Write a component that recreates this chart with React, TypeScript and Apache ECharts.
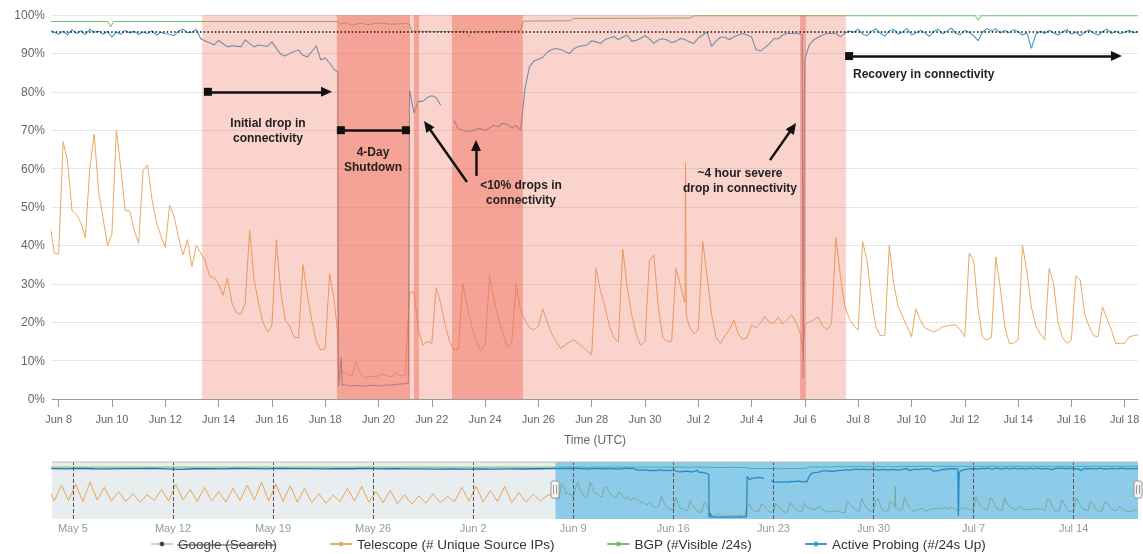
import React, { useEffect, useRef } from 'react';
import * as echarts from 'echarts';

const FONT = '"Liberation Sans", Arial, Helvetica, sans-serif';
const MONTHS = ['Jan', 'Feb', 'Mar', 'Apr', 'May', 'Jun', 'Jul', 'Aug', 'Sep', 'Oct', 'Nov', 'Dec'];
// x values are days relative to Jun 8 00:00 UTC
const BASE_UTC = Date.UTC(2019, 5, 8);

const seriesNames = ['Google (Search)', 'Telescope (# Unique Source IPs)', 'BGP (#Visible /24s)', 'Active Probing (#/24s Up)'];
const mainTickDays = [0, 2, 4, 6, 8, 10, 12, 14, 16, 18, 20, 22, 24, 26, 28, 30, 32, 34, 36, 38, 40];
const navTickDays = [-34, -27, -20, -13, -6, 1, 8, 15, 22, 29, 36];

// 4-hourly samples starting Jun 7 16:00
const sampleStart = -1 / 3;
const sampleStep = 1 / 6;

const telescope = [
  46, 38,
  37.8, 67, 62, 49, 48, 46,
  42, 60, 69, 54, 47, 40,
  43, 70, 60, 49, 49, 44,
  40.5, 59.6, 60.9, 52, 46, 42.5,
  39.5, 50.5, 47.5, 42, 37.5, 41.5,
  34.5, 40, 38, 36, 32, 31.5,
  30, 27, 31.5, 25, 22.5, 22,
  25, 44, 31, 25, 20, 17.5,
  19, 41.5, 28, 20.5, 19, 16,
  16, 35, 27, 20.5, 15, 12.8,
  13, 32.5, 26, 6.5, 7, 6.5,
  6, 9.7, 6.5, 5.5, 6, 5.8,
  6, 6.5, 6, 5.8, 6.8, 6,
  6.2, 27.5, 28, 18, 14, 15,
  14.5, 29, 25, 19.5, 15, 12.8,
  13, 30, 24, 19, 15.5, 12.5,
  14, 32, 26, 21, 17, 13.5,
  14.5, 30, 23, 20.5, 18.5, 18,
  19, 23.5, 20, 17, 15, 13.2,
  14, 14.9, 15.4, 14.5, 13.5, 12.5,
  11.5, 34, 28, 24, 19, 16,
  14.9, 39, 29, 22, 17, 14,
  15, 36, 37.5, 24, 16, 15,
  15, 34, 29.5, 25, 18.8, 17,
  18, 41, 32, 22, 16, 14.5,
  16.5, 18, 20.5, 17, 15.5, 16,
  19.3, 18.5, 19.7, 21.5, 20, 19.7,
  21.4, 19.5, 20.6, 21.9, 20, 17,
  19.5, 20, 20.6, 21.4, 19, 18,
  19.7, 42, 32, 24, 21, 19,
  18, 41, 36, 25.8, 18.8, 16.5,
  16.5, 40, 30, 24, 21.5, 19,
  16.2, 23.5, 20.5, 18.5, 18, 17.5,
  18, 18.8, 19, 19.3, 19.3, 18,
  16.2, 38, 36, 23.5, 16, 15.4,
  16, 37, 29, 19, 14.5, 14.5,
  15.4, 40, 33, 24, 19, 17,
  15.4, 34, 30, 20, 16, 14.5,
  15.4, 32, 31, 22, 18.8, 16.5,
  16.2, 24, 21, 18, 14.5, 14.5,
  14.5, 16.2, 16.5, 16.7,
];
const telescopeExtra = [[10.47, 17], [23.52, 61.5], [23.55, 22], [27.93, 12]];

const probing = [
  96.0, 95.5,
  95.0, 95.8, 94.8, 96.2, 95.2, 95.9,
  94.9, 96.3, 95.5, 95.8, 95.0, 95.7,
  94.2, 95.6, 95.0, 96.0, 95.3, 95.8,
  94.9, 95.6, 95.2, 95.9, 94.8, 95.5,
  95.1, 95.0, 94.6, 95.8, 96.3, 95.4,
  95.5, 96.2, 93.8, 93.2, 92.8, 92.2,
  93.4, 92.5, 91.7, 92.0, 91.9, 91.7,
  93.5, 92.6, 91.7, 92.2, 92.0, 91.8,
  93.0, 91.3, 89.8, 89.3, 90.0, 90.5,
  90.9, 89.5, 89.1, 90.5, 92.0, 88.3,
  88.8, 87.5, 85.8, 3.2, 3.8, 3.5,
  3.4, 3.6, 3.5, 3.3, 3.5, 3.6,
  3.4, 3.5, 3.7, 3.6, 3.8, 3.9,
  4.0, 80.5, 74.5, 77.5, 77.5, 78.5,
  79.0, 78.5, 76.5, null, null, 72.5,
  70.3, 70.0, 69.7, 69.8, 70.3, 70.4,
  70.0, 70.6, 71.3, 70.9, 71.8, 71.5,
  70.6, 71.2, 70.0, 81.0, 86.5, 88.0,
  88.5, 89.0, 90.3, 91.0, 91.3, 91.0,
  90.5, 90.0, 91.2, 91.8, 92.0, 92.2,
  93.3, 93.0, 92.6, 93.6, 94.0, 94.4,
  93.6, 94.2, 94.8, 93.2, 93.4, 93.9,
  94.6, 93.8, 92.6, 93.5, 93.8, 93.5,
  92.8, 93.2, 93.9, 93.6, 93.0, 92.6,
  94.0, 94.8, 95.6, 91.8, 93.2, 94.2,
  94.2, 93.6, 94.3, 94.8, 95.2, 94.8,
  94.3, 91.0, 90.6, 91.5, 92.5, 93.8,
  93.8, 94.8, 95.2, 95.2, 95.2, 95.0,
  88.5, 92.2, 93.5, 94.2, 94.8, 95.2,
  95.2, 95.2, 94.3, 95.3, 95.8, 95.5,
  96.3, 95.0, 94.6, 95.8, 96.4, 95.2,
  94.5, 95.9, 96.2, 95.0, 95.6, 96.5,
  94.8, 95.3, 96.0, 95.4, 94.4, 95.7,
  96.3, 95.1, 95.8, 96.6, 95.2, 94.9,
  96.0, 95.5, 94.6, 93.3, 95.5, 96.5,
  95.8, 96.4, 95.3, 96.0, 95.4, 96.2,
  95.7, 94.8, 95.3, 91.3, 95.0, 95.8,
  95.2, 96.0, 95.4, 94.8, 95.6, 96.2,
  95.0, 95.6, 94.6, 95.5, 96.1, 95.3,
  94.8, 95.7, 96.3, 95.2, 95.8, 95.1,
  95.6, 96.0, 95.4, 95.7,
];
const probingExtra = [[10.48, 85.2], [10.6, 11], [10.64, 3.6], [13.12, 4.2], [27.9, 94.8], [27.935, 5.5], [27.96, 35], [27.985, 80]];

const bgp = [
  [-0.333, 98.3], [1.85, 98.3], [1.95, 96.9], [2.05, 98.3], [10.45, 98.3], [10.55, 97.6], [10.8, 98.0],
  [11.0, 97.3], [11.3, 97.9], [11.6, 97.5], [12.0, 97.9], [12.5, 97.6], [13.0, 97.8], [13.15, 97.7],
  [13.25, 95.8], [14.0, 95.7], [15.3, 95.7], [15.4, 94.3], [15.5, 95.6], [17.3, 95.8], [17.45, 98.4],
  [19.2, 98.5], [19.3, 99.1], [23.7, 99.2], [23.85, 99.8], [34.4, 99.8], [34.5, 98.6], [34.6, 99.8], [40.5, 99.8],
];

// overview (navigator) history before the main window
const telescopeMayStart = -35.8;
const telescopeMayStep = 0.5;
const telescopeMay = [
  62, 34, 64, 35, 66, 33, 70, 36, 60, 34, 52, 33, 48, 32, 46, 35, 56, 34, 66, 36, 56, 33, 60, 34,
  52, 32, 58, 35, 64, 36, 70, 34, 66, 33, 63, 32, 58, 31, 48, 30, 45, 33, 58, 34, 62, 32, 52, 31,
  54, 29, 46, 28, 44, 30, 48, 31, 43, 33, 60, 34, 62, 32, 54, 33, 62, 31, 50, 32, 47, 34, 45,
];
const probingMayStart = -35.5;
const probingMay = [
  95.5, 95.0, 95.8, 95.2, 94.8, 95.6, 95.3, 95.9, 95.0, 94.0, 95.2, 95.6, 95.1, 95.7, 95.4, 95.0, 95.8, 95.3,
  95.6, 95.0, 95.5, 95.2, 95.8, 95.1, 95.4, 94.8, 95.0, 94.6, 94.9, 94.5, 94.8, 94.6, 94.9, 94.7, 95.2, 95.6,
];
const bgpMay = [[-35.8, 98.3], [-0.4, 98.3]];

// highlighted periods [startDay, endDay, severity]
const bands = [[5.38, 29.54, 0], [10.44, 13.18, 1], [13.33, 13.52, 1], [14.76, 17.42, 1], [27.82, 28.04, 1]];
const baselineLevel = 95.7;
const mainRange = [-0.25, 40.5];
const navRange = [-35.46, 40.5];

const sampled = (vals: (number | null)[], start: number, step: number) => vals.map((v, i) => [start + i * step, v]);
const merged = (a: any[], extra: number[][]) => [...a, ...extra].sort((p, q) => p[0] - q[0]);

const telescopeData = merged(sampled(telescope, sampleStart, sampleStep), telescopeExtra);
const probingData = merged(sampled(probing, sampleStart, sampleStep), probingExtra);

const dayLabel = (d: number) => {
  const t = new Date(BASE_UTC + Math.round(d * 24) * 3600000);
  return `${MONTHS[t.getUTCMonth()]} ${t.getUTCDate()}`;
};

const C_ORANGE = '#eba95e';
const C_GREEN = '#6cbf6c';
const C_BLUE = '#3d9bc8';
const BAND_LIGHT = 'rgba(240,110,90,0.30)';
const BAND_DARK = 'rgba(240,110,90,0.475)';

const arrowSym = 'triangle';
const arrowSize = [10, 11];
const arrowLines = [
  [{ coord: [5.6, 80], symbol: 'rect', symbolSize: 8 }, { coord: [10.05, 80], symbol: arrowSym, symbolSize: arrowSize }],
  [{ coord: [10.59, 70], symbol: 'rect', symbolSize: 8 }, { coord: [13.03, 70], symbol: 'rect', symbolSize: 8 }],
  [{ coord: [15.32, 56.5], symbol: 'none' }, { coord: [13.83, 71.2], symbol: arrowSym, symbolSize: arrowSize }],
  [{ coord: [15.66, 58.1], symbol: 'none' }, { coord: [15.66, 66.0], symbol: arrowSym, symbolSize: arrowSize }],
  [{ coord: [26.69, 62.2], symbol: 'none' }, { coord: [27.55, 70.7], symbol: arrowSym, symbolSize: arrowSize }],
  [{ coord: [29.66, 89.3], symbol: 'rect', symbolSize: 8 }, { coord: [39.69, 89.3], symbol: arrowSym, symbolSize: arrowSize }],
];

const notes = [
  { text: 'Initial drop in\nconnectivity', x: 268, y: 130, align: 'center' },
  { text: '4-Day\nShutdown', x: 373, y: 159, align: 'center' },
  { text: '<10% drops in\nconnectivity', x: 521, y: 192, align: 'center' },
  { text: '~4 hour severe\ndrop in connectivity', x: 740, y: 180, align: 'center' },
  { text: 'Recovery in connectivity', x: 853, y: 74, align: 'left' },
];

const bandRender = (fills: string[]) => (params: any, api: any) => {
  const p0 = api.coord([api.value(0), 100]);
  const p1 = api.coord([api.value(1), 0]);
  return {
    type: 'rect',
    shape: { x: p0[0], y: p0[1], width: p1[0] - p0[0], height: p1[1] - p0[1] },
    style: { fill: fills[api.value(2)] },
  };
};
const navRender = (fill: string) => (params: any, api: any) => {
  const p0 = api.coord([api.value(0), 108]);
  const p1 = api.coord([api.value(1), 0]);
  return {
    type: 'rect',
    shape: { x: p0[0], y: p0[1], width: p1[0] - p0[0], height: p1[1] - p0[1] },
    style: { fill },
  };
};

const handle = (cx: number) => ({
  type: 'group',
  children: [
    { type: 'rect', z: 100, shape: { x: cx - 4, y: 481, width: 8, height: 17, r: 2 }, style: { fill: '#f4f4f4', stroke: '#999', lineWidth: 1 } },
    { type: 'line', z: 101, shape: { x1: cx - 1.5, y1: 485, x2: cx - 1.5, y2: 494 }, style: { stroke: '#999', lineWidth: 1 } },
    { type: 'line', z: 101, shape: { x1: cx + 1.5, y1: 485, x2: cx + 1.5, y2: 494 }, style: { stroke: '#999', lineWidth: 1 } },
  ],
});

export default function App() {
  const ref = useRef<HTMLDivElement>(null);
  useEffect(() => {
    if (!ref.current) return;
    const chart = echarts.init(ref.current, undefined, { renderer: 'svg' });
    const lineBase = { type: 'line', showSymbol: false, symbol: 'circle', symbolSize: 4, silent: true, connectNulls: false, z: 2 };
    chart.setOption({
      animation: false,
      textStyle: { fontFamily: FONT },
      grid: [
        { left: 52, top: 15, width: 1086, height: 384 },
        { left: 52, top: 462, width: 1086, height: 57 },
      ],
      legend: {
        data: seriesNames,
        left: 150,
        top: 537,
        padding: 0,
        itemGap: 52,
        itemWidth: 22,
        itemHeight: 6,
        textStyle: { fontSize: 13.5, color: '#333', fontFamily: FONT },
        inactiveColor: '#444',
        selected: { 'Google (Search)': false },
      },
      xAxis: [
        {
          type: 'value', gridIndex: 0, min: mainRange[0], max: mainRange[1],
          axisLine: { lineStyle: { color: '#999', width: 1 } },
          axisTick: { show: true, length: 8, customValues: mainTickDays, lineStyle: { color: '#999' } },
          axisLabel: { customValues: mainTickDays, formatter: dayLabel, color: '#666', fontSize: 11, margin: 14 },
          splitLine: { show: false },
          name: 'Time (UTC)', nameLocation: 'middle', nameGap: 35,
          nameTextStyle: { color: '#666', fontSize: 12 },
        },
        {
          type: 'value', gridIndex: 1, min: navRange[0], max: navRange[1],
          axisLine: { show: false }, axisTick: { show: false },
          axisLabel: { customValues: navTickDays, formatter: dayLabel, color: '#999', fontSize: 11, margin: 3 },
          splitLine: { show: false },
        },
      ],
      yAxis: [
        {
          type: 'value', gridIndex: 0, min: 0, max: 100, interval: 10,
          axisLabel: { formatter: '{value}%', color: '#666', fontSize: 12, margin: 7 },
          axisLine: { show: false }, axisTick: { show: false },
          splitLine: { lineStyle: { color: '#e6e6e6' } },
        },
        { type: 'value', gridIndex: 1, min: 0, max: 108, show: false, splitLine: { show: false } },
      ],
      series: [
        { ...lineBase, name: seriesNames[0], data: [], color: '#434348' },
        { ...lineBase, name: seriesNames[1], data: telescopeData, color: C_ORANGE, lineStyle: { width: 1 } },
        { ...lineBase, name: seriesNames[2], data: bgp, color: C_GREEN, lineStyle: { width: 1 } },
        { ...lineBase, name: seriesNames[3], data: probingData, color: C_BLUE, lineStyle: { width: 1.1 } },
        {
          type: 'custom', name: 'bands', xAxisIndex: 0, yAxisIndex: 0, z: 4, silent: true,
          data: bands, encode: { x: [0, 1], y: 2 },
          renderItem: bandRender([BAND_LIGHT, BAND_DARK]),
        },
        {
          type: 'line', name: 'baseline', data: [], silent: true,
          markLine: {
            silent: true, symbol: ['none', 'none'], label: { show: false },
            lineStyle: { type: [1.5, 2.2], color: '#111', width: 1.5 },
            data: [{ yAxis: baselineLevel }],
          },
        },
        {
          type: 'line', name: 'arrows', data: [], silent: true,
          markLine: {
            silent: true, label: { show: false },
            lineStyle: { type: 'solid', color: '#111', width: 2.5 },
            itemStyle: { color: '#111' },
            data: arrowLines,
          },
        },
        // navigator
        {
          type: 'custom', name: 'nav-back', xAxisIndex: 1, yAxisIndex: 1, z: 1, silent: true,
          data: [[navRange[0], mainRange[0]]], encode: { x: [0, 1] },
          renderItem: navRender('#e8edf0'),
        },
        { ...lineBase, name: 'nav-telescope', xAxisIndex: 1, yAxisIndex: 1, color: '#e9a456', lineStyle: { width: 1 },
          data: [...sampled(telescopeMay, telescopeMayStart, telescopeMayStep), ...telescopeData] },
        { ...lineBase, name: 'nav-bgp', xAxisIndex: 1, yAxisIndex: 1, color: C_GREEN, lineStyle: { width: 1 },
          data: [...bgpMay, ...bgp] },
        { ...lineBase, name: 'nav-probing', xAxisIndex: 1, yAxisIndex: 1, color: '#1f6fae', lineStyle: { width: 1.3 },
          data: [...sampled(probingMay, probingMayStart, 1), ...probingData] },
        {
          type: 'custom', name: 'nav-window', xAxisIndex: 1, yAxisIndex: 1, z: 4, silent: true,
          data: [[mainRange[0], mainRange[1]]], encode: { x: [0, 1] },
          renderItem: navRender('rgba(46,163,213,0.55)'),
          markLine: {
            silent: true, symbol: ['none', 'none'], label: { show: false },
            lineStyle: { type: 'dashed', color: '#555', width: 1 },
            data: navTickDays.map((d) => ({ xAxis: d })),
          },
        },
      ],
      graphic: [
        ...notes.map((n) => ({
          type: 'text', z: 100, x: n.x, y: n.y,
          style: {
            text: n.text, fill: '#222', fontSize: 12, fontWeight: 'bold', fontFamily: FONT,
            align: n.align, verticalAlign: 'middle', lineHeight: 15,
          },
        })),
        { type: 'line', z: 100, shape: { x1: 52, y1: 462, x2: 1138, y2: 462 }, style: { stroke: '#bbb', lineWidth: 1 } },
        { type: 'line', z: 100, shape: { x1: 177, y1: 545, x2: 276, y2: 545 }, style: { stroke: '#444', lineWidth: 1 } },
        handle(555),
        handle(1138),
      ],
    });
    return () => chart.dispose();
  }, []);
  return <div ref={ref} style={{ position: 'fixed', left: 0, top: 0, width: 1143, height: 554 }} />;
}
